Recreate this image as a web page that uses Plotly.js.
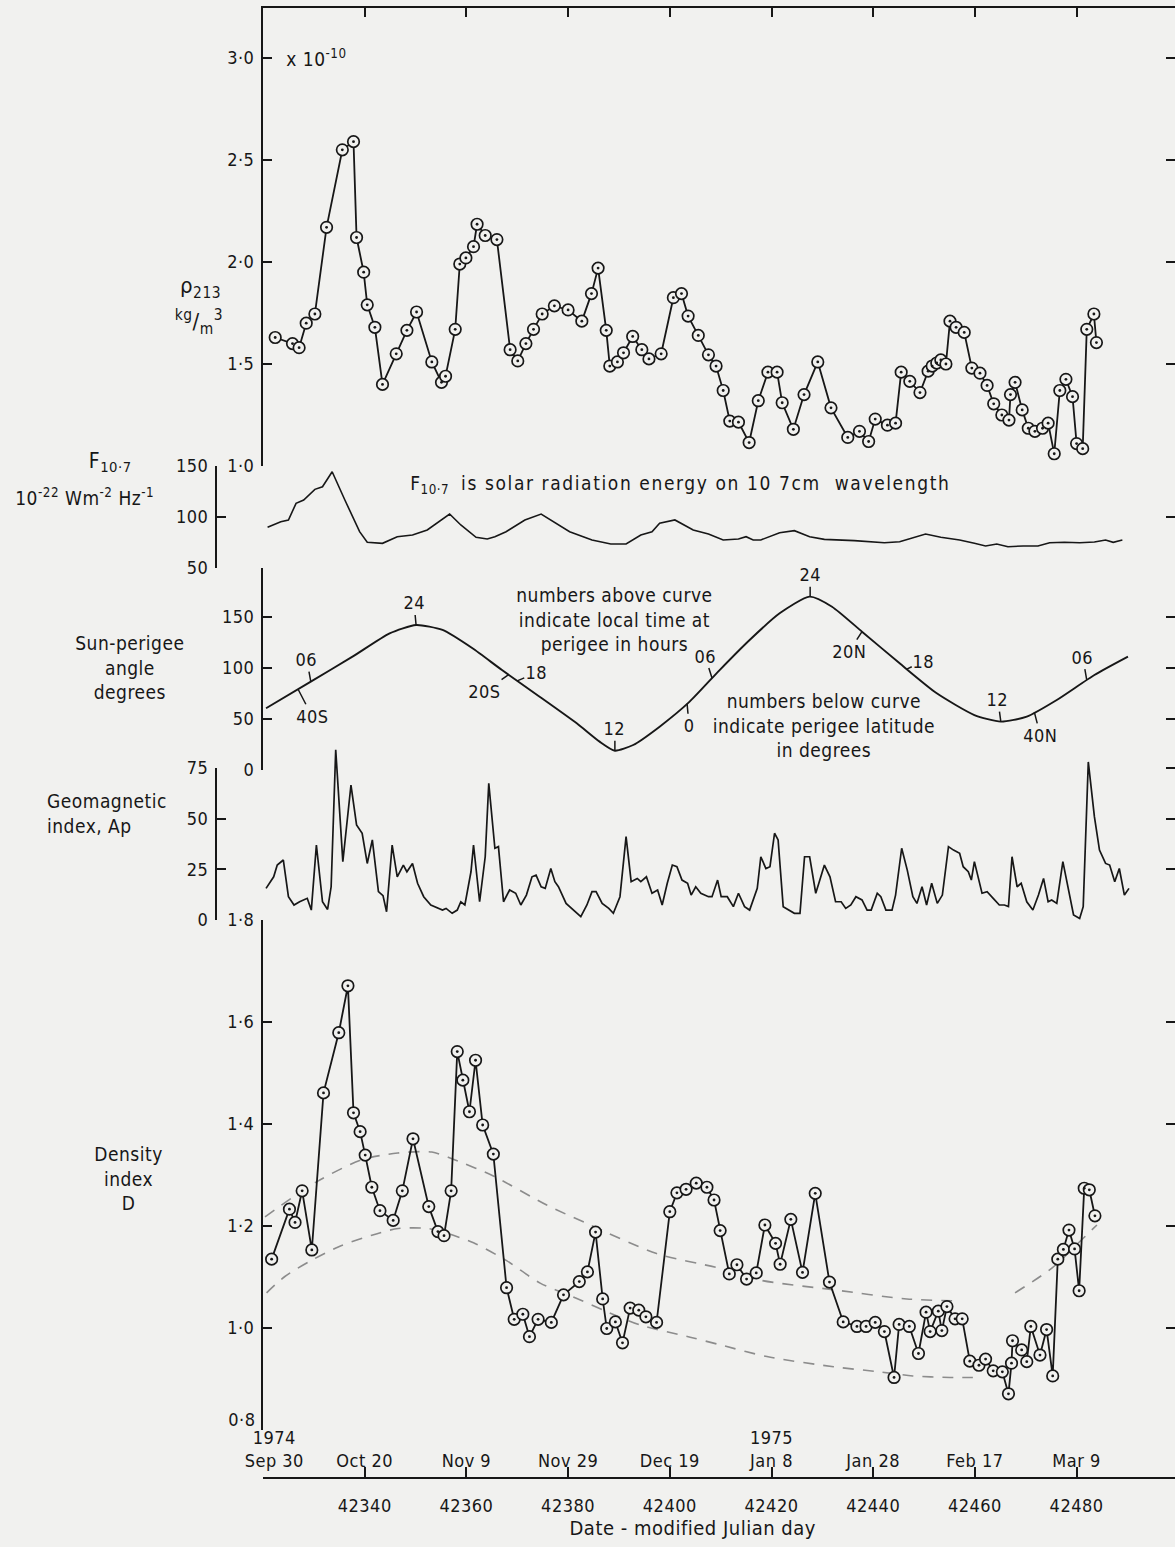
<!DOCTYPE html>
<html><head><meta charset="utf-8">
<script src="https://cdn.plot.ly/plotly-3.0.1.min.js"></script>
<style>html,body{margin:0;padding:0;background:#f1f1ef;}#chart{width:1175px;height:1547px;}#chart text{letter-spacing:0.5px;}</style>
</head><body><div id="chart"></div>
<script>
// ---------------- data ----------------
// Panel 1: rho_213 (x 10^-10 kg/m3)
const rhoDay = [42322.4,42325.8,42327.1,42328.5,42330.2,42332.5,42335.6,42337.8,42338.4,42339.8,42340.5,42342.0,42343.5,42346.2,42348.3,42350.2,42353.2,42355.1,42355.9,42357.8,42358.7,42359.9,42361.4,42362.1,42363.7,42366.0,42368.6,42370.1,42371.7,42373.2,42374.9,42377.3,42380.0,42382.7,42384.6,42385.9,42387.5,42388.2,42389.7,42390.9,42392.7,42394.5,42395.9,42398.3,42400.7,42402.3,42403.6,42405.6,42407.6,42409.1,42410.5,42411.8,42413.5,42415.6,42417.4,42419.3,42421.1,42422.1,42424.3,42426.4,42429.1,42431.7,42435.0,42437.3,42439.1,42440.4,42442.8,42444.4,42445.5,42447.2,42449.2,42450.8,42451.6,42452.5,42453.3,42454.3,42455.1,42456.3,42457.9,42459.4,42461.0,42462.4,42463.7,42465.3,42466.7,42467.0,42467.9,42469.3,42470.5,42471.8,42473.3,42474.4,42475.6,42476.7,42477.9,42479.2,42480.0,42481.2,42482.0,42483.4,42483.9];
const rhoVal = [1.63,1.60,1.58,1.70,1.745,2.17,2.55,2.59,2.12,1.95,1.79,1.68,1.40,1.55,1.665,1.755,1.51,1.41,1.44,1.67,1.99,2.02,2.075,2.185,2.13,2.11,1.57,1.515,1.60,1.67,1.745,1.785,1.765,1.71,1.845,1.97,1.665,1.49,1.51,1.555,1.635,1.57,1.525,1.55,1.825,1.845,1.735,1.64,1.545,1.49,1.37,1.22,1.215,1.115,1.32,1.46,1.46,1.31,1.18,1.35,1.51,1.285,1.14,1.17,1.12,1.23,1.20,1.21,1.46,1.415,1.36,1.465,1.49,1.505,1.52,1.50,1.71,1.68,1.655,1.48,1.455,1.395,1.305,1.25,1.225,1.35,1.41,1.275,1.185,1.17,1.185,1.21,1.06,1.37,1.425,1.34,1.11,1.085,1.67,1.745,1.605];
const rhoTicks = [1.0,1.5,2.0,2.5,3.0];
const rhoTickText = ['1·0','1·5','2·0','2·5','3·0'];

// Panel 2: F10.7
const fDay = [42320.9,42323.5,42325.0,42326.5,42328.0,42330.2,42331.7,42333.6,42336.1,42339.0,42340.5,42343.5,42346.4,42349.4,42352.3,42356.7,42358.9,42361.9,42364.1,42365.6,42367.8,42371.5,42374.7,42376.6,42380.3,42384.7,42388.4,42391.4,42394.3,42396.5,42398.0,42401.0,42404.6,42407.6,42410.5,42413.5,42415.0,42416.4,42417.9,42421.6,42424.5,42427.5,42430.4,42436.3,42442.2,42445.2,42447.4,42450.3,42453.3,42457.0,42459.9,42462.1,42464.3,42466.5,42469.5,42472.4,42474.7,42477.6,42480.6,42483.5,42485.7,42487.2,42489.0];
const fVal = [89.9,95.4,97,113.4,116.7,127.1,129.7,144.4,116.7,85.6,75.2,74.2,80.7,82.4,87.3,102.9,92.2,80.1,78.4,80.7,85.6,97.1,102.9,97.1,85.6,77.5,73.5,73.5,82.4,85.6,93.8,97.1,87.3,83.3,77.5,78.4,80.7,77.5,77.5,84.6,86.6,80.7,78.1,76.8,74.8,75.8,79.1,83.3,80.1,77.5,74.2,71.6,73.5,70.9,71.6,71.6,74.8,75.2,74.8,75.5,77.5,75.2,77.5];
const fTicks = [50,100,150];

// Panel 3: Sun-perigee angle (degrees)
const sDay = [42320.6,42329.4,42337.6,42344.9,42350.1,42355.3,42361.2,42367.0,42374.4,42381.7,42386.2,42389.2,42392.8,42398.0,42403.9,42409.8,42415.7,42421.6,42427.5,42431.9,42437.8,42445.2,42452.5,42459.9,42465.1,42470.2,42476.1,42483.5,42490.1];
const sVal = [60.5,86.6,111.1,134,142.2,137.3,119.3,98,71.9,45.8,27.8,18.9,24.5,42.5,67,98,127.5,153.6,170,160.1,135.6,104.6,75.2,53.9,47.4,52.3,68.6,93.1,111.1];
const sTicks = [0,50,100,150];
const curveLabelText = ['06','40S','24','20S','18','12','0','06','24','20N','18','12','40N','06'];
const curveLabelDay = [42329.4,42326.9,42350.1,42368.3,42370.0,42389.2,42403.4,42408.3,42427.6,42437.8,42446.6,42465.1,42471.7,42482.0];

// Panel 4: Geomagnetic index Ap
const apDay = [42320.6,42322.1,42322.8,42324.0,42325.0,42326.1,42327.2,42328.7,42329.5,42330.5,42331.7,42332.7,42333.4,42334.3,42335.7,42337.3,42338.4,42339.5,42340.5,42341.5,42342.7,42343.6,42344.3,42345.4,42346.4,42347.6,42348.3,42349.4,42350.4,42351.6,42353.0,42355.3,42356.0,42357.2,42358.2,42358.9,42359.7,42360.9,42361.4,42362.6,42363.7,42364.4,42365.6,42366.3,42367.3,42368.5,42369.7,42370.7,42371.8,42372.9,42373.7,42374.7,42375.5,42376.6,42377.4,42378.1,42379.6,42381.8,42382.5,42383.7,42384.7,42385.5,42386.7,42388.0,42388.9,42390.2,42391.4,42392.4,42393.6,42394.3,42395.4,42396.5,42397.6,42398.5,42399.5,42400.5,42401.4,42402.4,42403.5,42404.2,42405.1,42406.1,42407.6,42408.3,42409.4,42410.1,42411.3,42412.5,42413.5,42414.7,42415.7,42417.2,42417.9,42418.9,42419.7,42420.6,42421.3,42422.3,42424.5,42425.6,42426.5,42427.5,42428.7,42429.4,42430.4,42431.5,42432.6,42433.7,42434.6,42435.6,42436.6,42437.8,42438.8,42439.6,42440.8,42441.5,42442.5,42443.7,42444.4,42445.6,42446.7,42447.8,42448.6,42449.6,42450.5,42451.5,42452.6,42453.6,42454.8,42455.8,42457.0,42457.7,42458.7,42459.3,42459.9,42461.4,42462.4,42463.6,42464.8,42465.8,42466.6,42467.3,42468.3,42469.1,42470.2,42471.4,42472.5,42473.5,42474.4,42475.1,42476.1,42477.3,42478.1,42479.4,42480.6,42481.3,42482.3,42483.5,42484.5,42485.7,42486.5,42487.5,42488.4,42489.4,42490.3];
const apVal = [15.6,21.3,27.1,29.6,11.5,7.4,9.0,10.7,4.9,37.0,9.0,5.2,16.4,84,28.8,66.6,46.9,42.8,27.9,39.5,14.0,12,4.1,37.0,21.3,27.1,23.8,27.9,18.1,11.5,7.4,4.9,5.7,3.3,4.9,9.0,7.4,23.8,37.0,9.0,31.2,67.4,35.4,36.2,9.0,14.8,13.2,7.4,12.3,21.3,22.1,16.4,15.6,25.4,18.9,16.4,8.2,3.3,1.6,7.4,14.0,14.0,8.2,5.7,3.3,11.5,41.1,18.9,20.5,18.9,21.3,13.2,14.8,7.4,18.1,27.1,26.3,19.7,18.1,12.3,16.4,13.2,11.5,11.5,19.7,11.5,11.5,6.6,13.2,6.6,4.9,15.6,31.2,25.4,26.3,42.8,39.5,6.6,3.3,3.3,31.2,31.2,13.2,18.9,27.1,21.3,9.0,9.0,5.7,7.4,11.5,9.9,4.9,4.9,13.2,11.5,4.9,4.9,12.3,35.4,24.6,11.5,8.2,16.4,7.4,18.1,8.2,12.3,36.2,34.5,32.9,26.3,23.8,19.7,28.8,13.2,14.0,10.7,7.4,7.4,6.6,31.2,16.4,18.1,9.0,4.9,12.3,20.5,9.0,9.9,8.2,28.8,18.1,2.5,0.8,6.6,78,51,34.5,27.9,27.1,18.9,25.4,12.3,15.6];
const apTicks = [0,25,50,75];

// Panel 5: Density index D
const dDay = [42321.7,42325.2,42326.3,42327.7,42329.6,42331.9,42334.9,42336.7,42337.8,42339.1,42340.1,42341.4,42343.0,42345.6,42347.4,42349.5,42352.6,42354.4,42355.6,42357.0,42358.2,42359.3,42360.6,42361.8,42363.2,42365.3,42367.9,42369.4,42371.1,42372.4,42374.1,42376.7,42379.1,42382.2,42383.8,42385.4,42386.8,42387.6,42389.3,42390.7,42392.2,42393.9,42395.3,42397.4,42400.0,42401.4,42403.2,42405.2,42407.3,42408.7,42409.9,42411.7,42413.2,42415.1,42417.0,42418.7,42420.8,42421.7,42423.8,42426.1,42428.6,42431.4,42434.1,42436.8,42438.6,42440.4,42442.2,42444.1,42445.1,42447.1,42448.9,42450.4,42451.2,42452.8,42453.5,42454.5,42456.1,42457.5,42459.0,42460.8,42462.1,42463.6,42465.4,42466.6,42467.2,42467.4,42469.2,42470.2,42471.0,42472.8,42474.1,42475.3,42476.3,42477.4,42478.5,42479.6,42480.5,42481.5,42482.5,42483.6];
const dVal = [1.135,1.233,1.207,1.269,1.153,1.461,1.579,1.671,1.422,1.385,1.339,1.276,1.230,1.211,1.269,1.371,1.238,1.189,1.181,1.269,1.542,1.486,1.424,1.525,1.398,1.341,1.079,1.017,1.027,0.983,1.017,1.011,1.065,1.091,1.110,1.188,1.057,0.999,1.012,0.971,1.039,1.035,1.022,1.011,1.228,1.265,1.272,1.284,1.276,1.251,1.191,1.106,1.124,1.096,1.108,1.202,1.166,1.125,1.213,1.109,1.264,1.090,1.012,1.003,1.003,1.011,0.993,0.903,1.007,1.003,0.950,1.031,0.993,1.033,0.995,1.042,1.018,1.018,0.935,0.927,0.939,0.916,0.914,0.871,0.931,0.975,0.957,0.934,1.003,0.947,0.997,0.906,1.135,1.154,1.192,1.155,1.073,1.274,1.271,1.220];
const upperDay1 = [42320.4,42330.6,42339.5,42346.5,42353.2,42357.4,42365.3,42375.8,42383.7,42397.4,42409.9,42417.7,42432.2,42446.6,42457.1];
const upperVal1 = [1.218,1.287,1.330,1.343,1.345,1.331,1.298,1.241,1.205,1.146,1.117,1.094,1.075,1.057,1.053];
const upperDay2 = [42467.9,42475.2,42481.3,42484.0];
const upperVal2 = [1.069,1.118,1.176,1.202];
const lowerDay = [42320.7,42324.3,42329.6,42334.8,42341.4,42346.6,42352.5,42356.1,42361.4,42367.9,42374.5,42381.0,42387.6,42394.1,42404.0,42409.9,42419.1,42432.2,42441.3,42447.8,42455.1,42459.6];
const lowerVal = [1.069,1.101,1.133,1.159,1.182,1.195,1.195,1.186,1.167,1.132,1.088,1.061,1.032,1.006,0.982,0.967,0.944,0.924,0.914,0.906,0.903,0.903];
const dTicks = [0.8,1.0,1.2,1.4,1.6,1.8];
const dTickText = ['','1·0','1·2','1·4','1·6','1·8'];
const dBottomLabel = '0·8';

// x axis
const mjdTicks = [42320,42340,42360,42380,42400,42420,42440,42460,42480];
const mjdTickText = ['','42340','42360','42380','42400','42420','42440','42460','42480'];
const NB = '\u00a0';
const dateTickText = [NB+NB+NB+NB+'1974<br>'+NB+NB+NB+NB+'Sep 30','Oct 20','Nov 9','Nov 29','Dec 19','1975<br>Jan 8','Jan 28','Feb 17','Mar 9'];

// ---------------- layout helpers ----------------
const W = 1175, H = 1547;
const px = x => x / W;
const py = y => 1 - y / H;
const FONT = '"DejaVu Sans Condensed", "Liberation Sans Narrow", "DejaVu Sans", sans-serif';
const INK = '#171717';
const BG = '#f1f1ef';
const PXDAY = 5.085;
const xRange = [42320, 42320 + (W - 263) / PXDAY];
const TXT = 19;

const lineStyle = {color: INK, width: 1.8};
const traces = [];
function circles(xs, ys, yaxis) {
  traces.push({x: xs, y: ys, xaxis: 'x', yaxis: yaxis, type: 'scatter', mode: 'lines+markers',
    line: lineStyle, marker: {symbol: 'circle', size: 11.5, color: BG, line: {color: INK, width: 1.7}},
    hoverinfo: 'skip', showlegend: false, cliponaxis: false});
  traces.push({x: xs, y: ys, xaxis: 'x', yaxis: yaxis, type: 'scatter', mode: 'markers',
    marker: {size: 2.8, color: INK}, hoverinfo: 'skip', showlegend: false, cliponaxis: false});
}
function dashed(xs, ys) {
  traces.push({x: xs, y: ys, xaxis: 'x', yaxis: 'y5', type: 'scatter', mode: 'lines',
    line: {color: '#8c8c8c', width: 1.6, dash: '11px,9px', shape: 'spline', smoothing: 0.8},
    hoverinfo: 'skip', showlegend: false});
}
function helper(xa, ya) {
  traces.push({x: [42320], y: [null], xaxis: xa, yaxis: ya, type: 'scatter', mode: 'markers',
    hoverinfo: 'skip', showlegend: false});
}

circles(rhoDay, rhoVal, 'y');
traces.push({x: fDay, y: fVal, xaxis: 'x', yaxis: 'y2', type: 'scatter', mode: 'lines',
  line: {color: INK, width: 1.6}, hoverinfo: 'skip', showlegend: false});
traces.push({x: sDay, y: sVal, xaxis: 'x', yaxis: 'y3', type: 'scatter', mode: 'lines',
  line: {color: INK, width: 1.9, shape: 'spline', smoothing: 0.6}, hoverinfo: 'skip', showlegend: false});
traces.push({x: apDay, y: apVal, xaxis: 'x', yaxis: 'y4', type: 'scatter', mode: 'lines',
  line: {color: INK, width: 1.7}, hoverinfo: 'skip', showlegend: false});
dashed(upperDay1, upperVal1);
dashed(upperDay2, upperVal2);
dashed(lowerDay, lowerVal);
circles(dDay, dVal, 'y5');
helper('x2', 'y');
helper('x3', 'y5');
helper('x', 'y6');
helper('x', 'y7');

const tickFont = {family: FONT, size: 18, color: INK};
const baseAx = {showgrid: false, zeroline: false, ticks: 'inside', ticklen: 9, tickwidth: 2,
  tickcolor: INK, linecolor: INK, linewidth: 2, tickfont: tickFont, fixedrange: true};

const apTop = 920 - 95 * 2.0267;
const layout = {
  width: W, height: H, margin: {l: 0, r: 0, t: 0, b: 0},
  paper_bgcolor: BG, plot_bgcolor: 'rgba(0,0,0,0)', showlegend: false,
  font: {family: FONT, color: INK, size: TXT},
  xaxis: Object.assign({}, baseAx, {domain: [px(263), 1], range: xRange, anchor: 'free', position: py(1478),
    side: 'bottom', tickmode: 'array', tickvals: mjdTicks, ticktext: mjdTickText, ticklen: 10,
    showline: true, ticklabelstandoff: 11}),
  xaxis2: Object.assign({}, baseAx, {overlaying: 'x', range: xRange, anchor: 'y', side: 'top',
    tickmode: 'array', tickvals: mjdTicks.slice(1), showticklabels: false, showline: true}),
  xaxis3: Object.assign({}, baseAx, {overlaying: 'x', range: xRange, anchor: 'free', position: py(1478),
    side: 'top', tickmode: 'array', tickvals: mjdTicks, ticktext: dateTickText, ticks: '', showline: false,
    ticklabelstandoff: 7}),
  yaxis: Object.assign({}, baseAx, {domain: [py(466), py(8)], range: [1.0, 1.0 + (466 - 8) / 204], anchor: 'x',
    tickmode: 'array', tickvals: rhoTicks, ticktext: rhoTickText, showline: true, mirror: 'ticks', ticklabelstandoff: 3}),
  yaxis2: Object.assign({}, baseAx, {domain: [py(568), py(466)], range: [50, 150], anchor: 'x', side: 'right',
    tickmode: 'array', tickvals: fTicks, showticklabels: false, showline: false}),
  yaxis3: Object.assign({}, baseAx, {domain: [py(770), py(568)], range: [0, 202 / 1.02], anchor: 'x',
    tickmode: 'array', tickvals: sTicks.concat([202 / 1.02]), ticktext: sTicks.map(String).concat(['']),
    showline: true, mirror: 'ticks', ticklabelstandoff: 3}),
  yaxis4: Object.assign({}, baseAx, {domain: [py(920), py(apTop)], range: [0, 95], anchor: 'x', side: 'right',
    tickmode: 'array', tickvals: apTicks, showticklabels: false, showline: false}),
  yaxis5: Object.assign({}, baseAx, {domain: [py(1430), py(920)], range: [0.8, 1.8], anchor: 'x',
    tickmode: 'array', tickvals: dTicks, ticktext: dTickText, showline: true, mirror: 'ticks', ticklabelstandoff: 3}),
  yaxis6: Object.assign({}, baseAx, {overlaying: 'y2', range: [50, 150], anchor: 'free', position: px(216),
    side: 'left', tickmode: 'array', tickvals: fTicks, showline: true, ticklabelstandoff: 3}),
  yaxis7: Object.assign({}, baseAx, {domain: [py(920), py(768)], range: [0, 75], anchor: 'free', position: px(216),
    side: 'left', tickmode: 'array', tickvals: apTicks, showline: true, ticklabelstandoff: 3}),
  annotations: []
};

function note(text, x, y, opts) {
  layout.annotations.push(Object.assign({text: text, x: px(x), y: py(y), xref: 'paper', yref: 'paper',
    showarrow: false, xanchor: 'center', yanchor: 'middle', align: 'center',
    font: {family: FONT, size: TXT, color: INK}}, opts || {}));
}
note('x 10<sup>-10</sup>', 286, 58, {xanchor: 'left'});
note('ρ<sub>213</sub>', 200, 287, {font: {family: FONT, size: 22, color: INK}});
note('<sup>kg</sup>/<sub>m</sub><sup>3</sup>', 199, 322, {font: {family: FONT, size: 22, color: INK}});
note('F<sub>10·7</sub>', 110, 462, {font: {family: FONT, size: 21, color: INK}});
note('10<sup>-22</sup> Wm<sup>-2</sup> Hz<sup>-1</sup>', 84, 497);
note('F<sub>10·7</sub>' + NB + NB + '<span style="letter-spacing:1.6px">is solar radiation energy on 10' + NB + '7cm' + NB + ' wavelength</span>', 410, 484, {xanchor: 'left'});
note('Sun-perigee<br>angle<br>degrees', 130, 667);
note('numbers above curve<br>indicate local time at<br>perigee in hours', 614, 619);
note('numbers below curve<br>indicate perigee latitude<br>in degrees', 824, 725);
note('Geomagnetic<br>index, Ap', 45, 813, {xanchor: 'left', align: 'left'});
note('Density<br>index<br>D', 128, 1178);
note('Date - modified Julian day', 693, 1528, {font: {family: FONT, size: 20, color: INK}});
note(dBottomLabel, 257, 1419, {xanchor: 'right', font: tickFont});

// curve labels on the sun-perigee curve
function sunAt(d) {
  for (let i = 0; i < sDay.length - 1; i++) {
    if (d >= sDay[i] && d <= sDay[i + 1]) {
      const t = (d - sDay[i]) / (sDay[i + 1] - sDay[i]);
      return sVal[i] + t * (sVal[i + 1] - sVal[i]);
    }
  }
  return sVal[sVal.length - 1];
}
const labelOffsets = [[-4,-22],[14,27],[-2,-22],[-24,17],[19,-8],[0,-22],[2,22],[-7,-22],[0,-22],[-13,20],[17,-8],[-3,-22],[6,23],[-4,-23]];
curveLabelText.forEach((t, i) => {
  layout.annotations.push({text: t, x: curveLabelDay[i], y: sunAt(curveLabelDay[i]), xref: 'x', yref: 'y3',
    showarrow: true, arrowhead: 0, arrowwidth: 1.5, arrowcolor: INK, standoff: 0,
    ax: labelOffsets[i][0], ay: labelOffsets[i][1], font: {family: FONT, size: 18, color: INK}});
});

Plotly.newPlot('chart', traces, layout, {staticPlot: true, displayModeBar: false});
</script>
</body></html>
